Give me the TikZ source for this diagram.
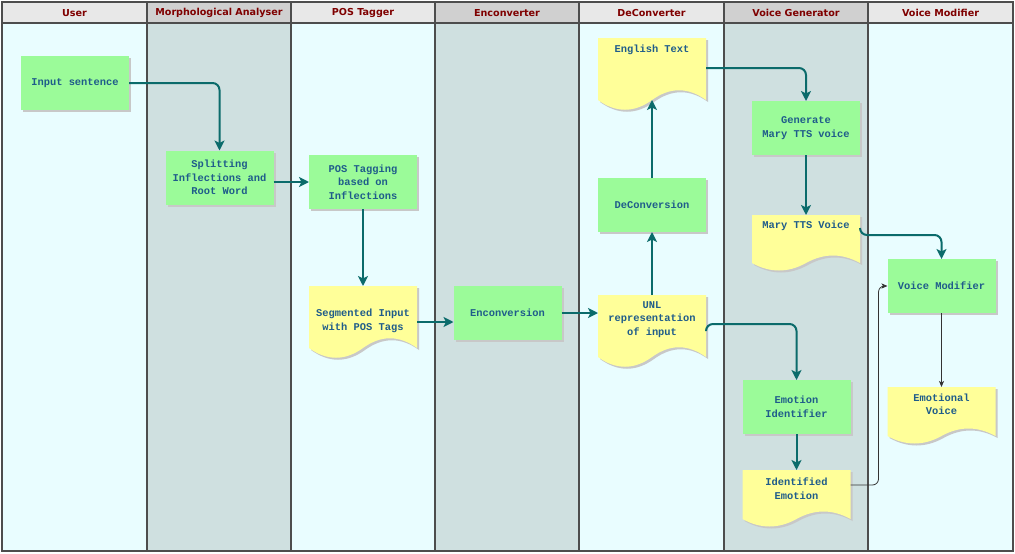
\documentclass[tikz,border=0pt]{standalone}
\usepackage{fontspec}
\usetikzlibrary{arrows.meta,calc,shadows}
\newfontfamily\boxfont{Liberation Mono}
\newfontfamily\headfont{DejaVu Sans}
\definecolor{laneA}{HTML}{E9FDFF}
\definecolor{laneB}{HTML}{CFE0E0}
\definecolor{headA}{HTML}{E8E8E8}
\definecolor{headB}{HTML}{D0D0D0}
\definecolor{bordergray}{HTML}{4D4D4D}
\definecolor{procgreen}{HTML}{9BFB99}
\definecolor{docyellow}{HTML}{FFFF99}
\definecolor{txtblue}{HTML}{1F5C8A}
\definecolor{titlered}{HTML}{7F0000}
\definecolor{teal}{HTML}{0B6B6B}
\definecolor{shadowgray}{HTML}{C8C8C8}
\definecolor{thinline}{HTML}{333333}
% document shape path: #1 node, #2 wave offset, #3 shift
\newcommand\docpath[3]{($(#1.north west)+(#3,#3)$) -- ($(#1.north east)+(#3,#3)$) -- ($(#1.south east)+(#3,#3)$) .. controls ($(#1.south east)!1/6!(#1.south west)+(#3,#3-#2)$) and ($(#1.south)!1/3!(#1.south east)+(#3,#3-#2)$) .. ($(#1.south)+(#3,#3)$) .. controls ($(#1.south)!1/3!(#1.south west)+(#3,#3+#2)$) and ($(#1.south west)!1/3!(#1.south)+(#3,#3+#2)$) .. ($(#1.south west)+(#3,#3)$) -- cycle}
\newcommand\docshape[2]{\fill[shadowgray] \docpath{#1}{#2}{2}; \fill[docyellow] \docpath{#1}{#2}{0};}
\begin{document}
\begin{tikzpicture}[x=1pt,y=-1pt,
  border/.style={draw=bordergray,line width=1.1pt},
  lanetitle/.style={font=\headfont\bfseries\fontsize{9.6}{11}\selectfont,text=titlered,inner sep=0pt},
  proc/.style={rectangle,fill=procgreen,minimum width=108pt,minimum height=54pt,inner sep=0pt,outer sep=0pt,
    font=\boxfont\bfseries\fontsize{10.4}{13.5}\selectfont,text=txtblue,align=center,
    drop shadow={shadow xshift=2pt,shadow yshift=-2pt,fill=shadowgray,opacity=1}},
  docbox/.style={rectangle,minimum width=108pt,inner sep=0pt,outer sep=0pt,draw=none},
  txt/.style={font=\boxfont\bfseries\fontsize{10.4}{13.5}\selectfont,text=txtblue,align=center,inner sep=0pt},
  flow/.style={draw=teal,line width=2pt,rounded corners=7pt,-{Stealth[length=10pt,width=10pt,inset=2.5pt]}},
  thin/.style={draw=thinline,line width=0.8pt,rounded corners=6pt,-{Stealth[length=6pt,width=5pt,inset=1.5pt]}}]
\useasboundingbox (0,0) rectangle (1015,554);
\fill[white] (0,0) rectangle (1015,554);
% lanes
\foreach \xa/\xb/\t/\lc/\hc [count=\k] in {2/147/User/laneA/headA,147/291/Morphological Analyser/laneB/headB,291/435/POS Tagger/laneA/headA,435/579/Enconverter/laneB/headB,579/724/DeConverter/laneA/headA,724/868/Voice Generator/laneB/headB,868/1013/Voice Modifier/laneA/headA}{
  \fill[\lc] (\xa,23) rectangle (\xb,551);
  \fill[\hc] (\xa,2) rectangle (\xb,23);
  \node[lanetitle] (lane\k) at ({(\xa+\xb)/2},13) {\t};
}
\draw[border] (2,23) -- (1013,23);
\foreach \x in {147,291,435,579,724,868}{\draw[border] (\x,2) -- (\x,551);}
\draw[border] (2,2) rectangle (1013,551);
% process nodes
\node[proc] (inp) at (75,83) {Input sentence};
\node[proc] (split) at (219.5,177.5) {Splitting\\Inflections and\\Root Word};
\node[proc] (post) at (363,182) {POS Tagging\\based on\\Inflections};
\node[proc] (enc) at (507.5,313) {Enconversion};
\node[proc] (dec) at (652,205) {DeConversion};
\node[proc] (gen) at (806,128) {Generate\\Mary TTS voice};
\node[proc] (vm) at (941.5,286) {Voice Modifier};
\node[proc] (ei) at (796.5,407) {Emotion\\Identifier};
% document nodes
\node[docbox,minimum height=62pt] (seg) at (363,317) {};
\docshape{seg}{13}
\node[txt] (segT) at (363,321) {Segmented Input\\with POS Tags};
\node[docbox,minimum height=62pt] (unl) at (652,326) {};
\docshape{unl}{13}
\node[txt] (unlT) at (652,319.5) {UNL\\representation\\of input};
\node[docbox,minimum height=62pt] (eng) at (652,69) {};
\docshape{eng}{13}
\node[txt] (engT) at (652,50) {English Text};
\node[docbox,minimum height=48pt] (mary) at (806,239) {};
\docshape{mary}{10}
\node[txt] (maryT) at (806,226) {Mary TTS Voice};
\node[docbox,minimum height=49pt] (emov) at (941.5,411.5) {};
\docshape{emov}{10}
\node[txt] (emovT) at (941.5,404.5) {Emotional\\Voice};
\node[docbox,minimum height=49pt] (ide) at (796.5,494.5) {};
\docshape{ide}{10}
\node[txt] (ideT) at (796.5,488.5) {Identified\\Emotion};
% connectors
\draw[flow] (inp.east) -| (split.north);
\draw[flow] (split.east |- post.west) -- (post.west);
\draw[flow] (post.south) -- (seg.north);
\draw[flow] ($(seg.east)+(0,5)$) -- ($(seg.east -| enc.west)+(0,5)$);
\draw[flow] (enc.east) -- (enc.east -| unl.west);
\draw[flow] (unl.north) -- (dec.south);
\draw[flow] (dec.north) -- (eng.south);
\draw[flow] ($(eng.east)+(0,-1)$) -| (gen.north);
\draw[flow] (gen.south) -- (mary.north);
\draw[flow] ($(mary.north east)+(0,13)$) |- ($(vm.north)+(0,-24)$) -- (vm.north);
\draw[flow] ($(unl.north east)+(0,35)$) |- ($(ei.north)+(0,-56)$) -- (ei.north);
\draw[flow] (ei.south) -- (ide.north);
\draw[thin] (vm.south) -- (emov.north);
\draw[thin] ($(ide.north east)+(0,15)$) -| ($(vm.west)+(-9,0)$) -- (vm.west);
\end{tikzpicture}
\end{document}
